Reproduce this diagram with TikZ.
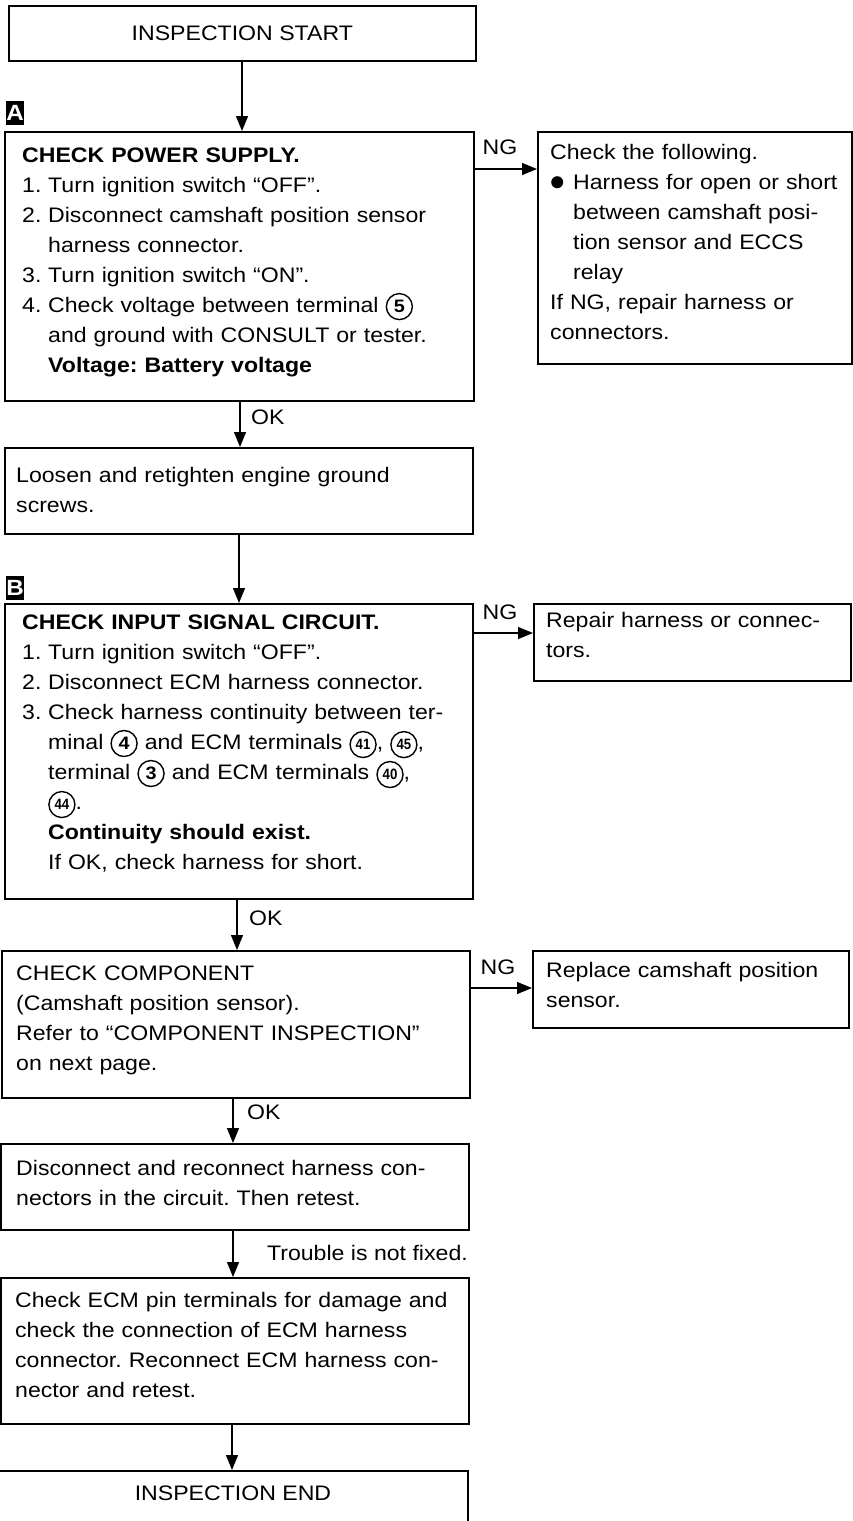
\documentclass[tikz,border=0pt]{standalone}
\usepackage{fontspec}
\usepackage{graphicx}
\setmainfont{Liberation Sans}[FakeStretch=1.1]
\usetikzlibrary{arrows.meta}
\newcommand\cnum[1]{\tikz[baseline=(cc.base)]\node[circle,draw,line width=1.4pt,inner sep=0pt,minimum size=26pt,font=\fontsize{18}{18}\selectfont\bfseries](cc){#1};}
\newcommand\cnumm[1]{\tikz[baseline=(cc.base)]\node[circle,draw,line width=1.4pt,inner sep=0pt,minimum size=26pt,font=\fontsize{15}{15}\selectfont\bfseries](cc){\scalebox{0.8}[1]{#1}};}
\newcommand\bul{\tikz[baseline=-7.5pt]\fill (0pt,0pt) circle (6pt);}
\newcommand\ind{\hspace*{26pt}}
\newcommand\itm[1]{\makebox[26pt][l]{#1}}
\frenchspacing
\begin{document}
\begin{tikzpicture}[x=1pt,y=-1pt,
  box/.style={draw,line width=1.6pt,inner sep=0pt,anchor=north west},
  txt/.style={anchor=north west,inner sep=0pt,align=left,text width=440pt,font=\fontsize{21}{30}\selectfont\frenchspacing},
  lbl/.style={inner sep=0pt,font=\fontsize{21}{30}\selectfont},
  marker/.style={fill=black,text=white,inner sep=0pt,minimum width=17pt,minimum height=24pt,font=\fontsize{22}{22}\selectfont\bfseries},
  arr/.style={line width=1.3pt,-{Triangle[length=15pt,width=12pt]}}]
\useasboundingbox (0,0) rectangle (853,1521);
\clip (0,0) rectangle (853,1521);
% boxes
\node[box,minimum width=467pt,minimum height=55pt,font=\fontsize{21}{30}\selectfont] (S) at (8,5) {INSPECTION START};
\node[box,minimum width=469pt,minimum height=269pt] (A) at (4,131) {};
\node[box,minimum width=314pt,minimum height=232pt] (N1) at (537,131) {};
\node[box,minimum width=468pt,minimum height=86pt] (L) at (4,447) {};
\node[box,minimum width=468pt,minimum height=295pt] (B) at (4,603) {};
\node[box,minimum width=317pt,minimum height=77pt] (R) at (533,603) {};
\node[box,minimum width=468pt,minimum height=147pt] (C) at (1,950) {};
\node[box,minimum width=316pt,minimum height=77pt] (P) at (532,950) {};
\node[box,minimum width=468pt,minimum height=86pt] (D) at (0,1143) {};
\node[box,minimum width=468pt,minimum height=146pt] (E) at (0,1277) {};
\node[box,minimum width=470pt,minimum height=60pt] (F) at (-3,1470) {};
% markers
\node[marker] (mA) at (15,113) {A};
\node[marker] (mB) at (15,588) {B};
% texts
\node[txt] (tA) at (22,141.5) {\strut\textbf{CHECK POWER SUPPLY.}\\
\itm{1.}Turn ignition switch “OFF”.\\
\itm{2.}Disconnect camshaft position sensor\\
\ind harness connector.\\
\itm{3.}Turn ignition switch “ON”.\\
\itm{4.}Check voltage between terminal \cnum{5}\\
\ind and ground with CONSULT or tester.\\
\ind\textbf{Voltage: Battery voltage}};
\node[txt,text width=300pt] (tN1) at (550,138.5) {\strut Check the following.\\
\makebox[23pt][l]{\hspace{1pt}\bul}Harness for open or short\\
\hspace*{23pt}between camshaft posi-\\
\hspace*{23pt}tion sensor and ECCS\\
\hspace*{23pt}relay\\
If NG, repair harness or\\
connectors.};
\node[txt] (tL) at (16,461.5) {\strut Loosen and retighten engine ground\\screws.};
\node[txt] (tB) at (22,608.5) {\strut\textbf{CHECK INPUT SIGNAL CIRCUIT.}\\
\itm{1.}Turn ignition switch “OFF”.\\
\itm{2.}Disconnect ECM harness connector.\\
\itm{3.}Check harness continuity between ter-\\
\ind minal \cnum{4} and ECM terminals \cnumm{41}, \cnumm{45},\\
\ind terminal \cnum{3} and ECM terminals \cnumm{40},\\
\ind\cnumm{44}.\\
\ind\textbf{Continuity should exist.}\\
\ind If OK, check harness for short.};
\node[txt,text width=300pt] (tR) at (546,606.5) {\strut Repair harness or connec-\\tors.};
\node[txt] (tC) at (16,959.5) {\strut CHECK COMPONENT\\(Camshaft position sensor).\\Refer to “COMPONENT INSPECTION”\\on next page.};
\node[txt,text width=300pt] (tP) at (546,956.5) {\strut Replace camshaft position\\sensor.};
\node[txt] (tD) at (16,1154.5) {\strut Disconnect and reconnect harness con-\\nectors in the circuit. Then retest.};
\node[txt] (tE) at (15,1286.5) {\strut Check ECM pin terminals for damage and\\check the connection of ECM harness\\connector. Reconnect ECM harness con-\\nector and retest.};
\node[lbl] (tF) at (233,1493) {INSPECTION END};
% connectors
\draw[arr] (S.south -| 242,0) -- (A.north -| 242,0);
\draw[arr] (A.south -| 240,0) -- (L.north -| 240,0);
\draw[arr] (L.south -| 239,0) -- (B.north -| 239,0);
\draw[arr] (B.south -| 237,0) -- (C.north -| 237,0);
\draw[arr] (C.south -| 233,0) -- (D.north -| 233,0);
\draw[arr] (D.south -| 233,0) -- (E.north -| 233,0);
\draw[arr] (E.south -| 232,0) -- (F.north -| 232,0);
\draw[arr] (A.east |- 0,169) -- (N1.west |- 0,169);
\draw[arr] (B.east |- 0,633) -- (R.west |- 0,633);
\draw[arr] (C.east |- 0,988) -- (P.west |- 0,988);
% labels
\node[lbl] (ng1) at (500,147) {NG};
\node[lbl] (ng2) at (500,612) {NG};
\node[lbl] (ng3) at (498,967) {NG};
\node[lbl,anchor=west] (ok1) at (251,417) {OK};
\node[lbl,anchor=west] (ok2) at (249,918) {OK};
\node[lbl,anchor=west] (ok3) at (247,1112) {OK};
\node[lbl,anchor=east] (tr) at (468,1253) {Trouble is not fixed.};
\end{tikzpicture}
\end{document}
